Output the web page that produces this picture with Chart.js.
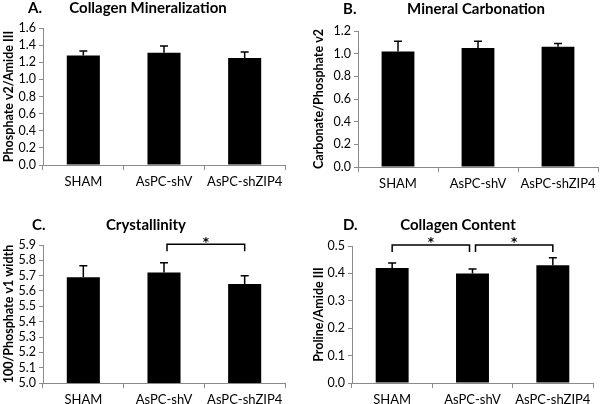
<!DOCTYPE html>
<html>
<head>
<meta charset="utf-8">
<script src="https://cdn.jsdelivr.net/npm/chart.js@4.4.1/dist/chart.umd.min.js"></script>
<style>
  body { margin: 0; background: #fff; width: 600px; height: 404px; position: relative; overflow: hidden; }
  canvas { position: absolute; }
</style>
</head>
<body>
<canvas id="cA" width="300" height="200" style="left:0;top:0"></canvas>
<canvas id="cB" width="300" height="200" style="left:300px;top:0"></canvas>
<canvas id="cC" width="300" height="204" style="left:0;top:200px"></canvas>
<canvas id="cD" width="300" height="204" style="left:300px;top:200px"></canvas>
<script>
// groups
const categories = ['SHAM', 'AsPC-shV', 'AsPC-shZIP4'];

// A. Collagen Mineralization
const mineralization = [1.28, 1.31, 1.25];
const mineralizationErr = [0.05, 0.08, 0.07];
const mineralizationTicks = [0.0, 1.6, 0.2]; // min, max, step

// B. Mineral Carbonation
const carbonation = [1.02, 1.05, 1.06];
const carbonationErr = [0.09, 0.06, 0.03];
const carbonationTicks = [0.0, 1.2, 0.2];

// C. Crystallinity
const crystallinity = [5.69, 5.72, 5.645];
const crystallinityErr = [0.075, 0.065, 0.055];
const crystallinityTicks = [5.0, 5.9, 0.1];
const crystallinitySig = [[1, 2]];

// D. Collagen Content
const collagen = [0.42, 0.40, 0.43];
const collagenErr = [0.018, 0.016, 0.027];
const collagenTicks = [0.0, 0.5, 0.1];
const collagenSig = [[0, 1], [1, 2]];

const FONT = 'Lato, "Open Sans", sans-serif';
const AXIS = '#8a8a8a';

// error bars, significance brackets, panel letter and title
const overlay = {
  id: 'overlay',
  afterDraw(chart, args, o) {
    const ctx = chart.ctx, x = chart.scales.x, y = chart.scales.y;
    const meta = chart.getDatasetMeta(0);
    ctx.save();
    ctx.strokeStyle = '#000';
    ctx.lineWidth = 1.5;
    o.err.forEach((e, i) => {
      const bar = meta.data[i];
      const yt = y.getPixelForValue(o.values[i] + e);
      ctx.beginPath();
      ctx.moveTo(bar.x, bar.y);
      ctx.lineTo(bar.x, yt);
      ctx.moveTo(bar.x - 4, yt);
      ctx.lineTo(bar.x + 4, yt);
      ctx.stroke();
    });
    (o.sig || []).forEach(([a, b]) => {
      const x1 = x.getPixelForValue(a) + (a > 0 ? 3 : 0);
      const x2 = x.getPixelForValue(b) - (b < 2 ? 3 : 0);
      const top = y.getPixelForValue(o.sigLevel);
      ctx.lineWidth = 1.5;
      ctx.beginPath();
      ctx.moveTo(x1, top + 7);
      ctx.lineTo(x1, top);
      ctx.lineTo(x2, top);
      ctx.lineTo(x2, top + 7);
      ctx.stroke();
      ctx.fillStyle = '#000';
      ctx.font = 'bold 12px "DejaVu Sans"';
      ctx.textAlign = 'center';
      ctx.textBaseline = 'alphabetic';
      ctx.fillText('*', (x1 + x2) / 2, top + 1.5);
    });
    ctx.fillStyle = '#000';
    ctx.textBaseline = 'middle';
    ctx.font = 'bold 15px ' + FONT;
    ctx.textAlign = 'left';
    ctx.fillText(o.letter, o.letterX, o.titleY);
    ctx.textAlign = 'center';
    ctx.fillText(o.title, o.titleX, o.titleY);
    ctx.restore();
  }
};

function makePanel(id, p) {
  const [min, max, step] = p.ticks;
  return new Chart(document.getElementById(id), {
    type: 'bar',
    data: {
      labels: categories,
      datasets: [{
        data: p.values,
        backgroundColor: '#000',
        barPercentage: 0.41,
        categoryPercentage: 1
      }]
    },
    options: {
      responsive: false,
      animation: false,
      events: [],
      layout: { padding: { top: p.top, left: p.padLeft, right: p.padRight, bottom: 0 } },
      plugins: {
        legend: { display: false },
        tooltip: { enabled: false },
        overlay: p.overlay
      },
      scales: {
        x: {
          grid: { offset: true, drawOnChartArea: false, tickLength: 5, color: AXIS },
          border: { color: AXIS, width: 1 },
          ticks: { color: '#000', font: { family: FONT, size: 13 }, padding: 4, maxRotation: 0, autoSkip: false },
          afterFit: s => { s.height = p.xh; }
        },
        y: {
          min: min, max: max,
          ticks: { stepSize: step, color: '#000', font: { family: FONT, size: 12.5 }, padding: 3,
                   autoSkip: false, callback: v => v.toFixed(1) },
          grid: { drawOnChartArea: false, tickLength: 4, color: AXIS },
          border: { color: AXIS, width: 1 },
          title: { display: true, text: p.yTitle, color: '#000',
                   font: { family: FONT, size: 12.5, weight: 'bold' }, padding: { top: 1, bottom: 1 } },
          afterFit: s => { s.width = p.yw; }
        }
      }
    },
    plugins: [overlay]
  });
}

makePanel('cA', {
  values: mineralization, ticks: mineralizationTicks, yTitle: 'Phosphate v2/Amide III',
  top: 28, padLeft: 0, padRight: 15, yw: 43, xh: 35,
  overlay: { values: mineralization, err: mineralizationErr, letter: 'A.', letterX: 28,
             title: 'Collagen Mineralization', titleX: 148, titleY: 8 }
});
makePanel('cB', {
  values: carbonation, ticks: carbonationTicks, yTitle: 'Carbonate/Phosphate v2',
  top: 31, padLeft: 10, padRight: 2, yw: 48, xh: 33,
  overlay: { values: carbonation, err: carbonationErr, letter: 'B.', letterX: 43,
             title: 'Mineral Carbonation', titleX: 176, titleY: 9 }
});
makePanel('cC', {
  values: crystallinity, ticks: crystallinityTicks, yTitle: '100/Phosphate v1 width',
  top: 45, padLeft: 0, padRight: 15, yw: 43, xh: 21,
  overlay: { values: crystallinity, err: crystallinityErr, sig: crystallinitySig, sigLevel: 5.905,
             letter: 'C.', letterX: 32, title: 'Crystallinity', titleX: 146, titleY: 25 }
});
makePanel('cD', {
  values: collagen, ticks: collagenTicks, yTitle: 'Proline/Amide III',
  top: 46, padLeft: 10, padRight: 7, yw: 42, xh: 21,
  overlay: { values: collagen, err: collagenErr, sig: collagenSig, sigLevel: 0.504,
             letter: 'D.', letterX: 43, title: 'Collagen Content', titleX: 158, titleY: 25 }
});
</script>
</body>
</html>
